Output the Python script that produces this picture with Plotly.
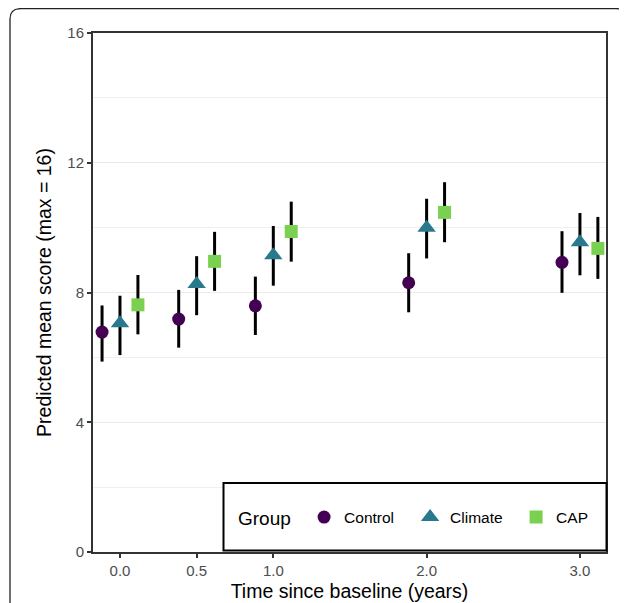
import plotly.graph_objects as go

times = [0.0, 0.5, 1.0, 2.0, 3.0]
groups = ["Control", "Climate", "CAP"]
offsets = [-0.117, 0.0, 0.117]
colors = ["#440154", "#2A788E", "#7AD151"]
symbols = ["circle", "triangle-up", "square"]
sizes = [13, 16, 13]

mean_control = [6.78, 7.18, 7.59, 8.30, 8.93]
low_control = [5.87, 6.30, 6.69, 7.39, 7.99]
high_control = [7.60, 8.08, 8.49, 9.21, 9.89]

mean_climate = [7.05, 8.26, 9.15, 10.00, 9.55]
low_climate = [6.07, 7.30, 8.21, 9.05, 8.53]
high_climate = [7.90, 9.12, 10.05, 10.89, 10.45]

mean_cap = [7.62, 8.96, 9.88, 10.47, 9.36]
low_cap = [6.71, 8.05, 8.95, 9.55, 8.42]
high_cap = [8.54, 9.87, 10.80, 11.40, 10.33]

means = [mean_control, mean_climate, mean_cap]
lows = [low_control, low_climate, low_cap]
highs = [high_control, high_climate, high_cap]

tick_vals = [0.0, 0.5, 1.0, 2.0, 3.0]
tick_text = ["0.0", "0.5", "1.0", "2.0", "3.0"]
y_ticks = [0, 4, 8, 12, 16]

FONT = "Liberation Sans, Arial, sans-serif"

fig = go.Figure()
for g, off, col, sym, sz, m, lo, hi in zip(groups, offsets, colors, symbols, sizes, means, lows, highs):
    fig.add_trace(go.Scatter(
        x=[t + off for t in times], y=m, mode="markers", name=g,
        marker=dict(color=col, symbol=sym, size=sz, line=dict(width=0)),
        error_y=dict(type="data", symmetric=False,
                     array=[h - v for h, v in zip(hi, m)],
                     arrayminus=[v - l for v, l in zip(m, lo)],
                     color="black", thickness=3, width=0),
    ))

OFF = 8  # page body margin
W, H = 627 - OFF, 603 - OFF
L, T = 93 - OFF, 33 - OFF
R, B = W - (606 - OFF), H - (552 - OFF)
pw, ph = W - L - R, H - T - B

def px(x):
    return (x - OFF - L) / pw

def py(y):
    return (H - B - (y - OFF)) / ph

# outer rounded frame
path = (f"M {px(10)},{py(640)} L {px(10)},{py(19)} Q {px(10)},{py(8.6)} {px(21)},{py(8.6)} "
        f"L {px(616)},{py(8.6)} Q {px(626.5)},{py(8.6)} {px(626.5)},{py(19)} L {px(626.5)},{py(640)}")
fig.add_shape(type="path", path=path, xref="paper", yref="paper",
              line=dict(color="#222222", width=1.3), layer="above")
# legend box
fig.add_shape(type="rect", xref="paper", yref="paper",
              x0=px(223.5), x1=px(606.5), y0=py(550.5), y1=py(483),
              fillcolor="white", line=dict(color="black", width=2), layer="above")

axis_common = dict(
    showline=True, linecolor="#333333", linewidth=2, mirror=True,
    ticks="outside", ticklen=4, tickwidth=2, tickcolor="#333333",
    tickfont=dict(family=FONT, size=15, color="#4D4D4D"),
    zeroline=False, automargin=False,
)

fig.update_xaxes(
    range=[-0.176, 3.17], tickvals=tick_vals, ticktext=tick_text, showgrid=False,
    title=dict(text="Time since baseline (years)", font=dict(family=FONT, size=19.5, color="black"), standoff=6),
    **axis_common,
)
fig.update_yaxes(
    range=[0, 16], tickvals=y_ticks, showgrid=True, gridcolor="#EBEBEB", gridwidth=1.3,
    minor=dict(dtick=2, showgrid=True, gridcolor="#EFEFEF", gridwidth=0.8, ticklen=0),
    title=dict(text="Predicted mean score (max = 16)", font=dict(family=FONT, size=19.5, color="black"), standoff=10),
    **axis_common,
)

fig.update_layout(
    width=W, height=H,
    margin=dict(l=L, r=R, t=T, b=B, autoexpand=False),
    plot_bgcolor="white", paper_bgcolor="white",
    font=dict(family=FONT),
    showlegend=True,
    legend=dict(
        orientation="h", x=px(236), xanchor="left", y=py(518), yanchor="middle",
        bgcolor="rgba(0,0,0,0)", borderwidth=0,
        title=dict(text="Group ", font=dict(family=FONT, size=19, color="black")),
        font=dict(family=FONT, size=15.5, color="black"),
        itemsizing="trace", entrywidth=61,
    ),
)

fig.write_html("out.html")
